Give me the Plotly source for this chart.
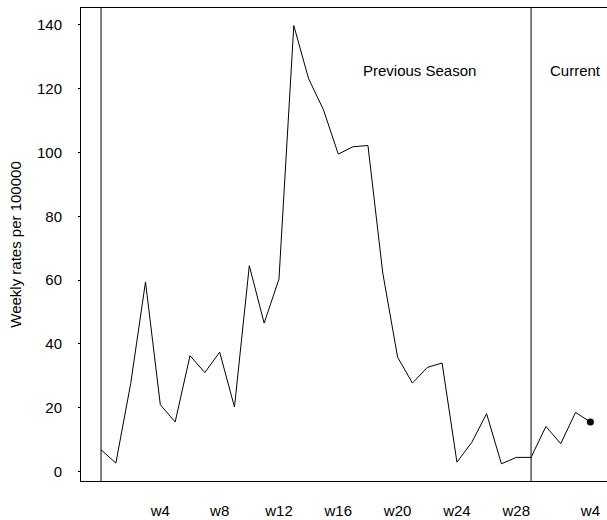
import plotly.graph_objects as go

# Previous season weekly rates (weeks 0..29)
prev_values = [6.8, 2.6, 27.5, 59.4, 20.9, 15.5, 36.3, 31.0, 37.4, 20.2,
               64.5, 46.5, 60.3, 139.8, 123.1, 113.4, 99.5, 101.8, 102.2, 62.2,
               35.8, 27.7, 32.6, 34.0, 2.9, 9.1, 18.1, 2.4, 4.4, 4.4]
prev_weeks = list(range(len(prev_values)))

# Current season weekly rates (weeks 0..4)
cur_values = [4.4, 14.1, 8.7, 18.5, 15.5]
cur_weeks = list(range(len(cur_values)))
cur_offset = 29  # current season starts where previous season ends

prev_tick_weeks = [4, 8, 12, 16, 20, 24, 28]
cur_tick_weeks = [4]
y_ticks = [0, 20, 40, 60, 80, 100, 120, 140]

season_starts = [0, cur_offset]
labels = ["Previous Season", "Current"]
label_x = [21.5, 32.0]
label_y = 125.6

font = dict(family="Liberation Sans, Arial, Helvetica, sans-serif", size=15, color="black")

cur_x = [cur_offset + w for w in cur_weeks]

fig = go.Figure()
fig.add_trace(go.Scatter(x=prev_weeks, y=prev_values, mode="lines",
                         line=dict(color="black", width=1), showlegend=False))
fig.add_trace(go.Scatter(x=cur_x, y=cur_values, mode="lines",
                         line=dict(color="black", width=1), showlegend=False))
fig.add_trace(go.Scatter(x=[cur_x[-1]], y=[cur_values[-1]], mode="markers",
                         marker=dict(color="black", size=7), showlegend=False,
                         cliponaxis=False))

for s in season_starts:
    fig.add_shape(type="line", xref="x", yref="paper", x0=s, x1=s, y0=0, y1=1,
                  line=dict(color="black", width=1))

for t, lx in zip(labels, label_x):
    fig.add_annotation(x=lx, y=label_y, text=t, showarrow=False, font=font,
                       xanchor="center", yanchor="middle")

tickvals = prev_tick_weeks + [cur_offset + w for w in cur_tick_weeks]
ticktext = ["w%d" % w for w in prev_tick_weeks] + ["w%d" % w for w in cur_tick_weeks]

fig.update_layout(
    width=607, height=520,
    margin=dict(l=81, r=0, t=8, b=39),
    paper_bgcolor="white", plot_bgcolor="white",
    font=font,
    xaxis=dict(range=[-1.35, 34.12], tickvals=tickvals, ticktext=ticktext,
               showgrid=False, zeroline=False, showline=True, mirror=True,
               linecolor="black", linewidth=1, ticks="", ticklabelstandoff=16),
    yaxis=dict(range=[-3.0, 145.3], tickvals=y_ticks, showgrid=False, zeroline=False,
               showline=True, linecolor="black", linewidth=1,
               ticks="outside", ticklen=2, tickcolor="black", ticklabelstandoff=13,
               title=dict(text="Weekly rates per 100000", font=font, standoff=11)),
)

fig.write_html("out.html", config={"displayModeBar": False},
               post_script="document.body.style.margin='0';")
